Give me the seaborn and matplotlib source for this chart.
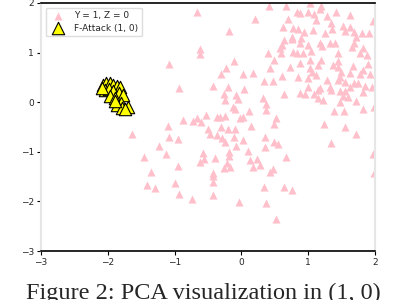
import numpy as np
import pandas as pd
import seaborn as sns
import matplotlib
matplotlib.use("Agg")
import matplotlib.pyplot as plt

# PCA coordinates
clean_x = [-0.66, -0.19, -0.62, -0.62, -1.09, -0.11, -0.23, -0.31, 0.03, 0.17,
           -0.93, -0.42, -0.20, 0.04, 0.20, 0.41, 0.67, 1.03, 1.19, 1.17,
           0.83, 0.88, 0.99, 1.08, 1.28, 1.42, 1.62, 0.69, 1.11, 1.34,
           1.97, 0.62, 0.77, 0.84, 0.93, 1.07, 1.35, 1.25, 1.52, 1.55,
           1.63, 1.69, 1.80, 1.91, 0.76, 0.89, 0.63, 0.60, 0.75, 0.88,
           1.00, 1.18, 1.20, 1.33, 1.40, 1.68, 1.72, 1.65, 1.82, 0.57,
           1.04, 0.77, 0.83, 0.92, 0.40, 0.59, 1.45, 1.78, 1.88, 1.03,
           0.48, 1.19, 0.87, 1.15, 1.37, 1.45, 1.90, 0.73, 0.43, 1.44,
           1.03, 1.49, 1.67, 1.82, 1.05, 1.12, 0.60, 0.85, 1.47, 1.63,
           1.78, 1.93, 0.34, 0.47, 1.00, 1.28, 1.44, 1.55, 1.69, 1.75,
           1.00, 1.18, 1.33, 1.63, 1.85, 1.95, -0.26, -0.08, -0.25, -0.05,
           -0.12, -0.10, 0.11, 0.02, -0.02, -0.32, -0.25, -0.53, -0.66, -0.61,
           -0.73, -0.88, -1.10, -0.36, 0.14, -0.50, -0.47, -0.31, -0.20, -0.10,
           -0.36, -0.29, -0.25, -0.11, 0.02, -0.08, -1.08, -0.95, -1.23, -1.13,
           -1.46, -0.58, -0.56, -0.62, -0.40, -0.18, -0.18, -0.21, 0.10, 0.12,
           0.17, -0.95, -1.36, -0.42, -0.26, -0.17, -1.64, 0.32, 0.37, 0.37,
           0.63, 0.87, 0.95, 1.08, 1.15, 1.15, 1.22, 1.34, 1.47, 1.55,
           1.52, 1.59, 1.47, 1.72, 1.82, 1.82, 1.99, 1.38, 1.53, 0.52,
           0.49, 1.23, 1.55, 1.72, 0.35, 0.48, 0.55, 0.35, 1.34, 0.67,
           0.23, 0.28, 0.47, 0.42, 1.97, -1.42, -1.29, -1.00, -0.94, -0.74,
           -0.42, -0.42, -0.43, -0.03, 0.34, 0.64, 0.76, 0.37, 0.51, 1.99]
clean_y = [1.82, 1.44, 1.07, 0.97, 0.78, 0.84, 0.68, 0.57, 0.57, 0.59,
           0.28, 0.33, 0.30, 0.27, 1.67, 1.94, 1.94, 1.99, 1.94, 1.87,
           1.82, 1.79, 1.82, 1.78, 1.74, 1.82, 1.76, 1.67, 1.66, 1.60,
           1.64, 1.51, 1.49, 1.47, 1.42, 1.46, 1.47, 1.40, 1.54, 1.44,
           1.51, 1.42, 1.39, 1.39, 1.32, 1.29, 1.25, 1.15, 1.27, 1.20,
           1.15, 1.19, 1.13, 1.20, 1.20, 1.20, 1.31, 1.11, 1.09, 1.09,
           1.04, 1.02, 0.99, 0.99, 1.00, 0.99, 0.99, 0.99, 0.95, 0.85,
           0.86, 0.86, 0.80, 0.75, 0.75, 0.84, 0.78, 0.72, 0.70, 0.72,
           0.68, 0.61, 0.73, 0.65, 0.61, 0.55, 0.53, 0.51, 0.51, 0.58,
           0.57, 0.57, 0.43, 0.43, 0.48, 0.45, 0.45, 0.41, 0.39, 0.38,
           0.30, 0.28, 0.30, 0.30, 0.33, 0.31, 0.16, 0.15, 0.04, 0.06,
           -0.09, -0.14, -0.18, -0.29, -0.32, -0.29, -0.27, -0.26, -0.31, -0.39,
           -0.38, -0.36, -0.47, -0.30, -0.47, -0.53, -0.63, -0.49, -0.53, -0.54,
           -0.66, -0.73, -0.80, -0.70, -0.76, -0.88, -0.70, -0.75, -0.88, -1.05,
           -1.10, -1.03, -1.15, -1.21, -1.13, -1.00, -1.08, -1.23, -0.98, -1.16,
           -1.30, -1.28, -1.41, -1.43, -1.33, -1.30, -0.64, 0.09, -0.04, -0.16,
           0.16, 0.18, 0.16, 0.16, 0.25, 0.09, 0.04, 0.25, 0.23, 0.23,
           0.13, 0.11, 0.00, 0.02, 0.21, -0.14, -0.09, -0.18, -0.18, -0.31,
           -0.43, -0.43, -0.49, -0.65, -0.70, -0.81, -0.85, -0.90, -0.83, -1.10,
           -1.15, -1.27, -1.35, -1.41, -1.05, -1.67, -1.72, -1.63, -1.85, -1.94,
           -1.49, -1.60, -1.87, -2.01, -1.70, -1.70, -1.77, -2.04, -2.35, -1.42]

attack_x = [-2.07, -2.02, -1.97, -1.92, -1.87, -1.82, -2.04, -1.98, -1.92, -1.84,
            -1.77, -1.97, -1.89, -1.80, -1.70, -1.87, -1.79, -1.74, -2.09, -1.90]
attack_y = [0.35, 0.38, 0.38, 0.35, 0.33, 0.31, 0.25, 0.26, 0.23, 0.19,
            0.15, 0.13, 0.08, -0.02, -0.09, -0.06, -0.12, -0.14, 0.28, 0.03]

clean = pd.DataFrame({"pc1": clean_x, "pc2": clean_y})
attack = pd.DataFrame({"pc1": attack_x, "pc2": attack_y})

sns.set_style("ticks")
fig = plt.figure(figsize=(4.06, 3.0), dpi=100)
ax = fig.add_axes([0.101, 0.163, 0.823, 0.827])

sns.scatterplot(data=clean, x="pc1", y="pc2", marker="^", color="pink",
                s=34, linewidth=0, ax=ax, label="Y = 1, Z = 0")
sns.scatterplot(data=attack, x="pc1", y="pc2", marker="^", color="yellow",
                s=80, edgecolor="black", linewidth=0.8, ax=ax,
                label="F-Attack (1, 0)")

ax.set_xlim(-3, 2)
ax.set_ylim(-3, 2)
ax.set_xticks([-3, -2, -1, 0, 1, 2])
ax.set_yticks([-3, -2, -1, 0, 1, 2])
ax.set_xlabel("")
ax.set_ylabel("")
ax.tick_params(labelsize=6.5, length=3, width=0.8, color="black", pad=2)

for side in ["top", "bottom"]:
    ax.spines[side].set_visible(True)
    ax.spines[side].set_color("black")
    ax.spines[side].set_linewidth(1.2)
for side in ["left", "right"]:
    ax.spines[side].set_visible(True)
    ax.spines[side].set_color("#e6e6e6")
    ax.spines[side].set_linewidth(1.5)

ax.legend(loc="upper left", fontsize=6.5, frameon=True, framealpha=1,
          edgecolor="#dddddd", borderpad=0.4, labelspacing=0.4)

fig.text(0.5, 0.005, "Figure 2: PCA visualization in (1, 0)", ha="center",
         va="baseline", fontsize=17.5, family="Liberation Serif")

fig.savefig("out.png", dpi=100)
